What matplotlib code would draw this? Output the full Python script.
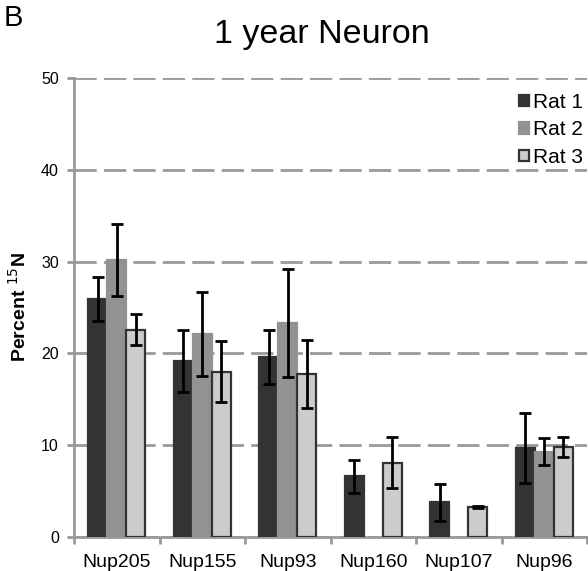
import matplotlib.pyplot as plt
from matplotlib.patches import Patch
import numpy as np

plt.rcParams['font.family'] = ['Liberation Sans', 'DejaVu Sans']

proteins = ['Nup205', 'Nup155', 'Nup93', 'Nup160', 'Nup107', 'Nup96']
rats = ['Rat 1', 'Rat 2', 'Rat 3']

# mean percent 15N per rat
rat1 = [25.9, 19.2, 19.6, 6.6, 3.8, 9.7]
rat2 = [30.2, 22.1, 23.3, 0.0, 0.0, 9.3]
rat3 = [22.6, 18.0, 17.8, 8.1, 3.3, 9.8]

# error (+/-)
rat1_err = [2.4, 3.4, 2.9, 1.8, 2.0, 3.8]
rat2_err = [3.9, 4.6, 5.9, 0.0, 0.0, 1.5]
rat3_err = [1.7, 3.3, 3.7, 2.8, 0.1, 1.1]

fig = plt.figure(figsize=(5.88, 5.71), dpi=100)
ax = fig.add_axes([0.1259, 0.0595, 0.8724, 0.8039])

x = np.arange(len(proteins))
w = 0.223
gray = '#999999'

series = [(rat1, rat1_err, '#333333', '#333333'),
          (rat2, rat2_err, '#929292', '#929292'),
          (rat3, rat3_err, '#cccccc', '#333333')]
for i, (vals, errs, fc, ec) in enumerate(series):
    pos = x + (i - 1) * w
    show = [v > 0 for v in vals]
    p = pos[show]
    v = np.array(vals)[show]
    e = np.array(errs)[show]
    ax.bar(p, v, width=w, color=fc, edgecolor=ec, linewidth=1.6, zorder=3)
    ax.errorbar(p, v, yerr=e, fmt='none', ecolor='black', elinewidth=2,
                capsize=4.3, capthick=2, zorder=4)

ax.set_xlim(-0.5, 5.5)
ax.set_ylim(0, 50)
ax.set_yticks([0, 10, 20, 30, 40, 50])
ax.yaxis.grid(True, color=gray, linestyle=(0, (8, 2.6)), linewidth=2)
ax.set_axisbelow(True)

for s in ['top', 'right']:
    ax.spines[s].set_visible(False)
for s in ['left', 'bottom']:
    ax.spines[s].set_color(gray)
    ax.spines[s].set_linewidth(2)

ax.set_xticks(x)
ax.set_xticklabels(proteins, fontsize=14)
ax.tick_params(axis='x', length=0, pad=12)
# group separators on the x axis
ax.set_xticks(np.arange(-0.5, 6.0, 1.0), minor=True)
ax.tick_params(axis='x', which='minor', length=5, width=2, color=gray)
ax.tick_params(axis='y', length=5, width=2, color=gray, labelsize=11.5, pad=6)

ax.set_ylabel('Percent $^{15}$N', fontsize=14, fontweight='bold', labelpad=8)

fig.text(322 / 588, 1 - 43 / 571, '1 year Neuron', fontsize=24.5, ha='center', va='baseline')
fig.text(0.007, 0.955, 'B', fontsize=21)

handles = [Patch(facecolor=c, edgecolor=e, linewidth=1.6) for _, _, c, e in series]
leg = ax.legend(handles, rats, loc='upper right', bbox_to_anchor=(1.02, 1.0),
                fontsize=15, frameon=False, handlelength=0.45, handleheight=0.45,
                handletextpad=0.2, labelspacing=0.42, borderaxespad=0.3)

fig.savefig('out.png', dpi=100)
